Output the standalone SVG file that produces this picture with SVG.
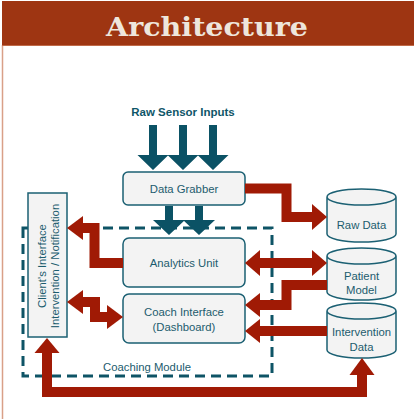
<svg xmlns="http://www.w3.org/2000/svg" width="414" height="419" viewBox="0 0 414 419">
  <style>
    .box { fill: #f3f3f3; stroke: #1b6073; stroke-width: 1.5; }
    .lbl { font-family: "Liberation Sans", Arial, sans-serif; font-size: 11.3px; fill: #1c5c6e; text-anchor: middle; }
    .flow { fill: none; stroke: #a01a05; stroke-width: 10; stroke-linejoin: miter; }
    .head { fill: #a01a05; }
    .feed { fill: #0b5265; }
  </style>

  <!-- page frame and title banner -->
  <rect x="0" y="0" width="414" height="419" fill="#ffffff"/>
  <line x1="2.5" y1="45" x2="2.5" y2="419" stroke="#d9a088" stroke-width="1.5"/>
  <rect x="2" y="1" width="412" height="45" fill="#9e3512"/>
  <line x1="2" y1="45.5" x2="414" y2="45.5" stroke="#c06a48" stroke-width="1"/>
  <text x="207" y="36" font-family="'DejaVu Serif', 'Liberation Serif', serif" font-weight="bold" font-size="26" fill="#eee6dc" text-anchor="middle" textLength="202" lengthAdjust="spacingAndGlyphs">Architecture</text>

  <!-- sensor inputs -->
  <text x="183" y="116" font-family="'Liberation Sans', Arial, sans-serif" font-weight="bold" font-size="11.5" fill="#0f5668" text-anchor="middle">Raw Sensor Inputs</text>

  <!-- coaching module boundary -->
  <g id="coaching-module">
    <rect x="23" y="228" width="249" height="148" fill="none" stroke="#0e5466" stroke-width="3" stroke-dasharray="10 6"/>
    <text class="lbl" x="147" y="371">Coaching Module</text>
  </g>

  <!-- nodes -->
  <g id="data-grabber">
    <rect class="box" x="123" y="172" width="122" height="33" rx="5"/>
    <text class="lbl" x="184" y="193">Data Grabber</text>
  </g>
  <g id="analytics-unit">
    <rect class="box" x="123" y="238" width="122" height="49" rx="6"/>
    <text class="lbl" x="184" y="267">Analytics Unit</text>
  </g>
  <g id="coach-interface">
    <rect class="box" x="123" y="294" width="122" height="49" rx="6"/>
    <text class="lbl" x="184" y="316">Coach Interface</text>
    <text class="lbl" x="184" y="331">(Dashboard)</text>
  </g>
  <g id="client-interface">
    <rect class="box" x="28" y="193" width="39" height="144"/>
    <text class="lbl" font-size="12" transform="translate(46,266) rotate(-90)">Client's Interface</text>
    <text class="lbl" font-size="12" transform="translate(59,266) rotate(-90)">Intervention / Notification</text>
  </g>
  <g id="raw-data">
    <path class="box" d="M327,197 V234 A34.5,8 0 0 0 396,234 V197 A34.5,8 0 0 0 327,197 Z M327,197 A34.5,8 0 0 0 396,197"/>
    <text class="lbl" x="361.5" y="229">Raw Data</text>
  </g>
  <g id="patient-model">
    <path class="box" d="M327,256 V292 A34.5,8 0 0 0 396,292 V256 A34.5,8 0 0 0 327,256 Z M327,256 A34.5,8 0 0 0 396,256"/>
    <text class="lbl" x="361.5" y="280">Patient</text>
    <text class="lbl" x="361.5" y="294">Model</text>
  </g>
  <g id="intervention-data">
    <path class="box" d="M327,311 V350 A34.5,8 0 0 0 396,350 V311 A34.5,8 0 0 0 327,311 Z M327,311 A34.5,8 0 0 0 396,311"/>
    <text class="lbl" x="361.5" y="336">Intervention</text>
    <text class="lbl" x="361.5" y="351">Data</text>
  </g>

  <!-- connectors -->
  <g id="connectors">
    <!-- sensor feeds into the grabber -->
    <path class="feed" d="M149,125 h8 v30 h11.5 l-15.5,15 l-15.5,-15 h11.5 Z"/>
    <path class="feed" d="M179,125 h8 v30 h11.5 l-15.5,15 l-15.5,-15 h11.5 Z"/>
    <path class="feed" d="M209,125 h8 v30 h11.5 l-15.5,15 l-15.5,-15 h11.5 Z"/>
    <!-- grabber into analytics -->
    <path class="feed" d="M165,206 h8 v14 h12 l-16,15 l-16,-15 h12 Z"/>
    <path class="feed" d="M195,206 h8 v14 h12 l-16,15 l-16,-15 h12 Z"/>

    <!-- grabber to raw data -->
    <path class="flow" d="M245,188.5 H286.5 V217 H313"/>
    <polygon class="head" points="312,204 327,217 312,230"/>
    <!-- analytics <-> patient model -->
    <path class="flow" d="M259,263 H313"/>
    <polygon class="head" points="260,250 245,263 260,276"/>
    <polygon class="head" points="312,250 327,263 312,276"/>
    <!-- analytics to client interface -->
    <path class="flow" d="M123,263 H94.5 V228 H82"/>
    <polygon class="head" points="83,216 67,228 83,240"/>
    <!-- client interface <-> coach interface -->
    <path class="flow" d="M82,302 H95 V317 H108"/>
    <polygon class="head" points="83,290 67,302 83,314"/>
    <polygon class="head" points="107,305 123,317 107,329"/>
    <!-- patient model to coach interface -->
    <path class="flow" d="M327,285 H286.5 V305 H259"/>
    <polygon class="head" points="260,293 245,305 260,317"/>
    <!-- intervention data to coach interface -->
    <path class="flow" d="M327,331 H259"/>
    <polygon class="head" points="260,319 245,331 260,343"/>
    <!-- client interface to intervention data loop -->
    <path class="flow" d="M47,352 V392 H362 V374"/>
    <polygon class="head" points="34.5,353 47,338 59.5,353"/>
    <polygon class="head" points="349.5,375 362,358 374.5,375"/>
  </g>
</svg>
